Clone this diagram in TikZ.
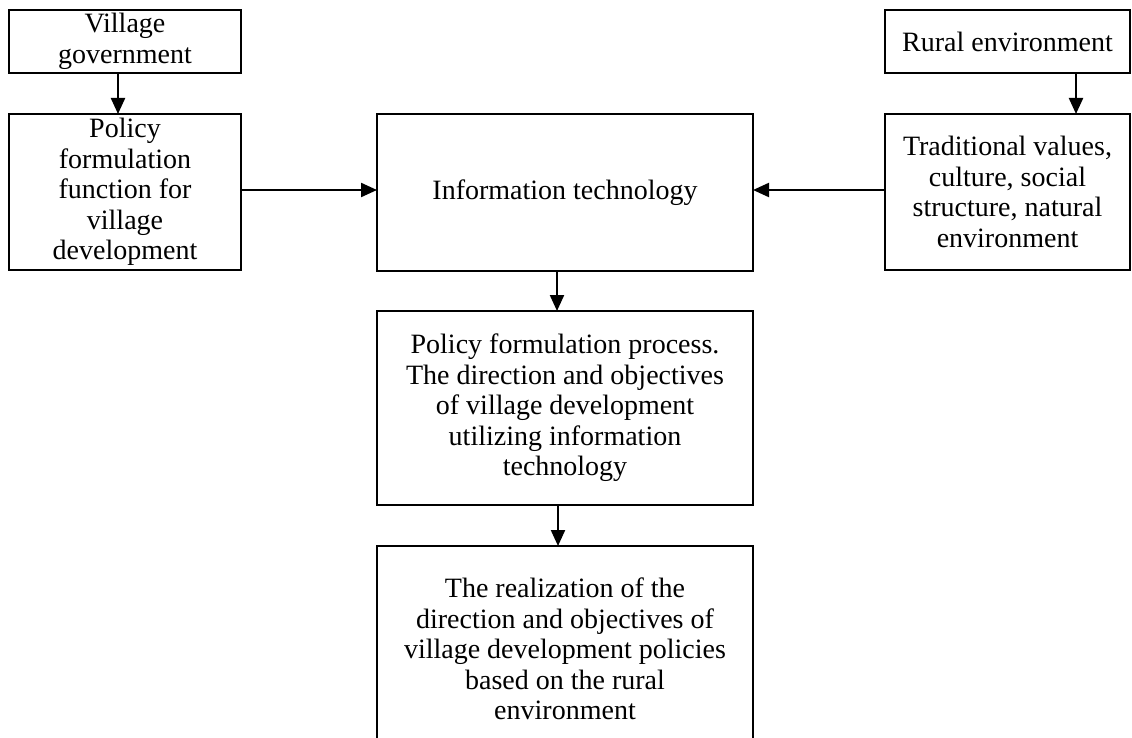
\documentclass[tikz,border=0pt]{standalone}
\usepackage{fontspec}
\setmainfont{Liberation Serif}
\usetikzlibrary{arrows.meta}
\tikzset{
  box/.style={draw, line width=2.2pt, inner sep=0pt, outer sep=0pt, align=center,
    font=\fontsize{28}{30.5}\selectfont},
  arr/.style={line width=2.2pt, -{Triangle[width=14pt,length=16pt]}}
}
\begin{document}
\begin{tikzpicture}[x=1pt,y=-1pt]
\useasboundingbox (0,0) rectangle (1132,738);
\clip (0,0) rectangle (1132,738);
\node[box, minimum width=232pt, minimum height=63pt] (vg) at (125,41.5) {Village\\government};
\node[box, minimum width=232pt, minimum height=156pt] (pff) at (125,192) {Policy\\formulation\\function for\\village\\development};
\node[box, minimum width=245pt, minimum height=63pt] (re) at (1007.5,41.5) {Rural environment};
\node[box, minimum width=245pt, minimum height=156pt] (tv) at (1007.5,192) {Traditional values,\\culture, social\\structure, natural\\environment};
\node[box, minimum width=376pt, minimum height=157pt] (it) at (565,192.5) {Information technology};
\node[box, minimum width=376pt, minimum height=194pt] (pfp) at (565,408) {Policy formulation process.\\The direction and objectives\\of village development\\utilizing information\\technology};
\node[box, minimum width=376pt, minimum height=206pt] (rz) at (565,649) {The realization of the\\direction and objectives of\\village development policies\\based on the rural\\environment};
\draw[arr] ([xshift=-7pt]vg.south) -- ([xshift=-7pt]pff.north);
\draw[arr] ([xshift=68.5pt]re.south) -- ([xshift=68.5pt]tv.north);
\draw[arr] ([yshift=2pt]pff.east) -- ([yshift=2pt]pff.east -| it.west);
\draw[arr] ([yshift=2pt]tv.west) -- ([yshift=2pt]tv.west -| it.east);
\draw[arr] ([xshift=-8pt]it.south) -- ([xshift=-8pt]pfp.north);
\draw[arr] ([xshift=-7pt]pfp.south) -- ([xshift=-7pt]rz.north);
\end{tikzpicture}
\end{document}
